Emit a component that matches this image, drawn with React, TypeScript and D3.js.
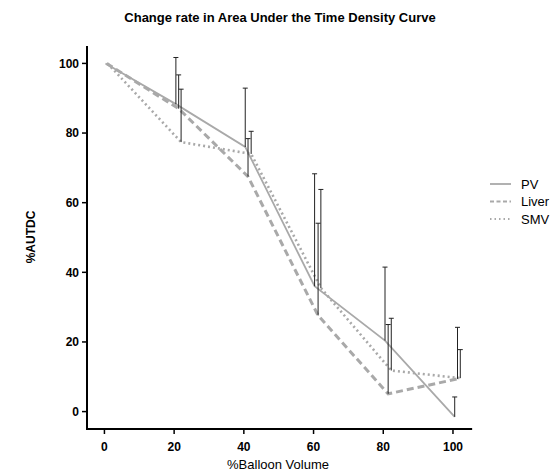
import React from "react";
import * as d3 from "d3";

const SERIES_NAMES = ["PV", "Liver", "SMV"];
const PV_X = [0.3, 20.5, 40.4, 60.3, 80.5, 100.5];
const PV_MEAN = [100, 88.3, 76, 36, 20.4, -1.5];
const PV_SD = [0, 13.4, 16.9, 32.3, 21.1, 5.7];
const LIVER_X = [0.6, 21.3, 41.2, 61.3, 81.4, 101.3];
const LIVER_MEAN = [100, 87, 67.5, 27.6, 5.1, 9.4];
const LIVER_SD = [0, 9.7, 10.9, 26.5, 19.9, 14.8];
const SMV_X = [0.9, 22.0, 42.1, 62.1, 82.3, 102.1];
const SMV_MEAN = [100, 77.4, 74, 35.5, 11.8, 9.6];
const SMV_SD = [0, 15.2, 6.5, 28.3, 15, 8.2];
const X_TICKS = [0, 20, 40, 60, 80, 100];
const Y_TICKS = [0, 20, 40, 60, 80, 100];

const FONT = "Arial, 'Liberation Sans', sans-serif";
const LINE_COLOR = "#a9a9a9";

const styles = [
  { dash: null as string | null, width: 1.8 },
  { dash: "7,4", width: 3 },
  { dash: "2,3", width: 2.6 },
];

export default function App() {
  const W = 557, H = 474;
  const x = d3.scaleLinear().domain([-5, 105]).range([87, 470.4]);
  const y = d3.scaleLinear().domain([-5, 105]).range([429, 46]);

  const series = [
    { name: SERIES_NAMES[0], xs: PV_X, m: PV_MEAN, sd: PV_SD },
    { name: SERIES_NAMES[1], xs: LIVER_X, m: LIVER_MEAN, sd: LIVER_SD },
    { name: SERIES_NAMES[2], xs: SMV_X, m: SMV_MEAN, sd: SMV_SD },
  ];

  const line = d3
    .line<[number, number]>()
    .x((d) => x(d[0]))
    .y((d) => y(d[1]));

  const axisTop = y(105);
  const axisBottom = y(-5);
  const axisLeft = x(-5);
  const axisRight = x(105.5);

  return (
    <svg width={W} height={H} style={{ position: "absolute", left: 0, top: 0 }} fontFamily={FONT}>
      <rect width={W} height={H} fill="#fff" />
      <text x={280} y={22} textAnchor="middle" fontWeight="bold" fontSize={13}>
        Change rate in Area Under the Time Density Curve
      </text>

      {/* lines */}
      {series.map((s, i) => (
        <path
          key={s.name}
          d={line(s.xs.map((xv, j) => [xv, s.m[j]] as [number, number])) || ""}
          fill="none"
          stroke={LINE_COLOR}
          strokeWidth={styles[i].width}
          strokeDasharray={styles[i].dash || undefined}
        />
      ))}

      {/* error bars */}
      {series.map((s) =>
        s.xs.map((xv, j) =>
          s.sd[j] > 0 ? (
            <g key={s.name + j} stroke="#222" strokeWidth={1}>
              <line x1={x(xv)} x2={x(xv)} y1={y(s.m[j])} y2={y(s.m[j] + s.sd[j])} />
              <line x1={x(xv) - 2.5} x2={x(xv) + 2.5} y1={y(s.m[j] + s.sd[j])} y2={y(s.m[j] + s.sd[j])} />
            </g>
          ) : null
        )
      )}

      {/* axes */}
      <line x1={axisLeft} x2={axisLeft} y1={axisTop} y2={axisBottom + 1} stroke="#000" strokeWidth={2} />
      <line x1={axisLeft - 1} x2={axisRight} y1={axisBottom} y2={axisBottom} stroke="#000" strokeWidth={2} />
      {Y_TICKS.map((t) => (
        <g key={"y" + t}>
          <line x1={axisLeft - 5} x2={axisLeft} y1={y(t)} y2={y(t)} stroke="#000" strokeWidth={1.5} />
          <text x={axisLeft - 8} y={y(t)} dy="0.35em" textAnchor="end" fontWeight="bold" fontSize={12}>
            {t}
          </text>
        </g>
      ))}
      {X_TICKS.map((t) => (
        <g key={"x" + t}>
          <line x1={x(t)} x2={x(t)} y1={axisBottom} y2={axisBottom + 5} stroke="#000" strokeWidth={1.5} />
          <text x={x(t)} y={axisBottom + 22} textAnchor="middle" fontWeight="bold" fontSize={12}>
            {t}
          </text>
        </g>
      ))}
      <text x={278} y={469} textAnchor="middle" fontSize={13}>
        %Balloon Volume
      </text>
      <text
        transform={`translate(35,237) rotate(-90)`}
        textAnchor="middle"
        fontWeight="bold"
        fontSize={12}
      >
        %AUTDC
      </text>

      {/* legend */}
      {series.map((s, i) => (
        <g key={"lg" + s.name} transform={`translate(490,${184 + i * 17.5})`}>
          <line
            x1={0}
            x2={21}
            y1={0}
            y2={0}
            stroke={LINE_COLOR}
            strokeWidth={i === 0 ? 1.8 : 2}
            strokeDasharray={i === 0 ? undefined : i === 1 ? "4,2.5" : "1.5,3"}
          />
          <text x={31} y={0} dy="0.35em" fontSize={13}>
            {s.name}
          </text>
        </g>
      ))}
    </svg>
  );
}
